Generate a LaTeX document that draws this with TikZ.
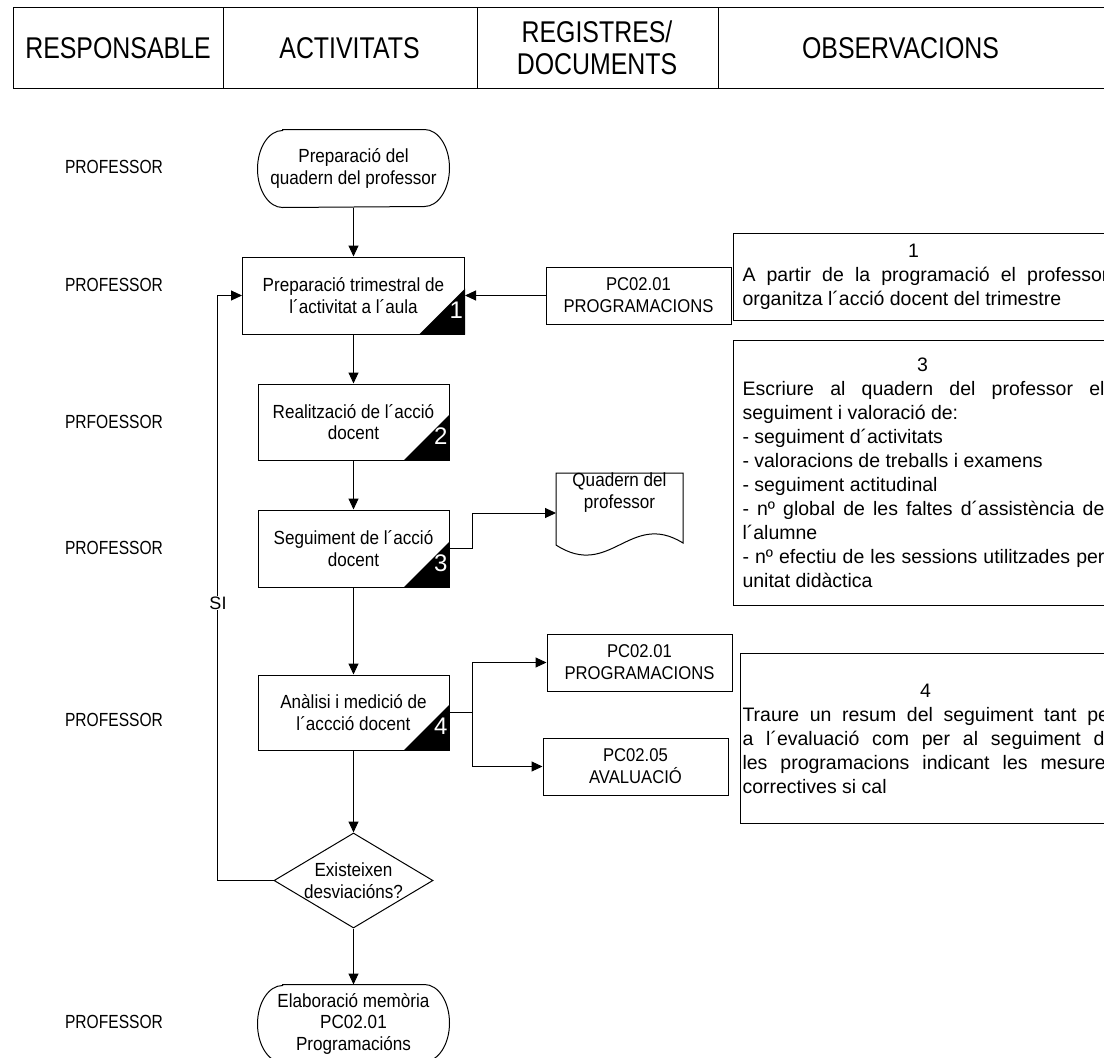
\documentclass[tikz,border=0pt]{standalone}
\usepackage{fontspec}
\setmainfont{Liberation Sans}
\newfontfamily\hdrfont[FakeStretch=0.83]{Liberation Sans}
\newfontfamily\lblfont[FakeStretch=0.82]{Liberation Sans}
\newfontfamily\cfont[FakeStretch=0.9]{Liberation Sans}
\usetikzlibrary{arrows.meta,shapes.geometric}
\begin{document}
\begin{tikzpicture}[x=1pt,y=-1pt,line width=1pt,
  arr/.style={-{Triangle[length=11pt,width=10pt]}},
  flowfont/.style={font=\cfont\fontsize{19pt}{21.5pt}\selectfont},
  flowbox/.style={draw,rectangle,minimum width=191pt,minimum height=76pt,align=center,inner sep=0pt,flowfont},
  termtext/.style={minimum width=191pt,minimum height=77pt,align=center,inner sep=0pt,flowfont},
  docbox/.style={draw,rectangle,minimum width=185pt,minimum height=57pt,align=center,inner sep=0pt,
    font=\cfont\fontsize{18.5pt}{22pt}\selectfont},
  obsbox/.style={draw,rectangle,anchor=north west,align=left,inner ysep=0pt,
    font=\fontsize{19.5pt}{24pt}\selectfont},
  hdr/.style={anchor=north west,minimum height=81pt,align=center,inner sep=0pt,
    font=\hdrfont\fontsize{30pt}{32pt}\selectfont},
  who/.style={font=\lblfont\fontsize{19pt}{20pt}\selectfont,inner sep=0pt},
  num/.style={text=white,font=\fontsize{24pt}{26pt}\selectfont,inner sep=0pt,anchor=base east}]
\useasboundingbox (0,0) rectangle (1104,1058);
\clip (0,0) rectangle (1104,1058);

% header
\draw (13,7) rectangle (1130,88);
\node[hdr,minimum width=209pt] (h1) at (13,7) {RESPONSABLE};
\node[hdr,minimum width=254pt] (h2) at (222,7) {ACTIVITATS};
\node[hdr,minimum width=241pt] (h3) at (476,7) {REGISTRES/\\DOCUMENTS};
\node[hdr,minimum width=366pt] (h4) at (717,7) {OBSERVACIONS};
\draw (h1.north east) -- (h1.south east);
\draw (h2.north east) -- (h2.south east);
\draw (h3.north east) -- (h3.south east);

% responsible labels
\node[who] (w1) at (114,167) {PROFESSOR};
\node[who] (w2) at (114,285) {PROFESSOR};
\node[who] (w3) at (114,422) {PRFOESSOR};
\node[who] (w4) at (114,548) {PROFESSOR};
\node[who] (w5) at (114,720) {PROFESSOR};
\node[who] (w6) at (114,1022) {PROFESSOR};

% flow
\node[termtext] (s) at (353.5,168.5) {Preparació del\\quadern del professor};
\draw ([xshift=25pt]s.north west) -- ([xshift=-25pt]s.north east)
  arc[start angle=90,end angle=-90,x radius=25pt,y radius=38.5pt]
  -- ([xshift=25pt]s.south west)
  arc[start angle=270,end angle=90,x radius=25pt,y radius=38.5pt] -- cycle;

\node[flowbox,minimum width=222pt,minimum height=77pt] (b1) at (353.5,295.5) {Preparació trimestral de\\l´activitat a l´aula};
\node[flowbox] (b2) at (353.5,422) {Realització de l´acció\\docent};
\node[flowbox,minimum height=77pt] (b3) at (353.5,548.5) {Seguiment de l´acció\\docent};
\node[flowbox,minimum height=75pt] (b4) at (353.5,712.5) {Anàlisi i medició de\\l´accció docent};

\foreach \n/\k in {b1/1,b2/2,b3/3,b4/4}{
  \fill (\n.south east) -- ++(-46pt,0pt) -- ++(46pt,46pt) -- cycle;
  \node[num] (n\k) at ([yshift=16pt,xshift=-1.5pt]\n.south east) {\k};
}

\node[draw,shape=diamond,minimum width=159pt,minimum height=95pt,inner sep=0pt,
  label={[flowfont,align=center]center:Existeixen\\desviacións?}] (d) at (353.5,880.5) {};

\node[termtext] (e) at (353.5,1023.5) {Elaboració memòria\\PC02.01\\Programacións};
\draw ([xshift=25pt]e.north west) -- ([xshift=-25pt]e.north east)
  arc[start angle=90,end angle=-90,x radius=25pt,y radius=38.5pt]
  -- ([xshift=25pt]e.south west)
  arc[start angle=270,end angle=90,x radius=25pt,y radius=38.5pt] -- cycle;

\draw[arr] (s.south) -- (b1.north);
\draw[arr] (b1.south) -- (b2.north);
\draw[arr] (b2.south) -- (b3.north);
\draw[arr] (b3.south) -- (b4.north);
\draw[arr] (b4.south) -- (d.north);
\draw[arr] (d.south) -- (e.north);

% loop back
\draw[arr] (d.west) -| ([xshift=-25pt]b1.west) -- (b1.west);
\node[fill=white,inner sep=1pt,font=\fontsize{18pt}{19pt}\selectfont] (si) at (218,603) {SI};

% documents
\node[docbox] (pc1) at (638.5,295.5) {PC02.01\\PROGRAMACIONS};
\draw[arr] (pc1.west) -- (b1.east);

\node[align=center,inner sep=0pt,flowfont] (q) at (619.5,492.5) {Quadern del\\professor};
\draw (556,473) -- (683,473) -- (683,543) .. controls (630,510) and (610,580) .. (556,545) -- cycle;
\coordinate (qin) at (556,513);
\draw[arr] (b3.east) -- ++(23pt,0pt) |- (qin);

\node[docbox] (pc2) at (639.5,662.5) {PC02.01\\PROGRAMACIONS};
\node[docbox] (pc3) at (635.5,766.5) {PC02.05\\AVALUACIÓ};
\draw (b4.east) -- ++(23pt,0pt) coordinate (j4);
\draw[arr] (j4) |- (pc2.west);
\draw[arr] (j4) |- (pc3.west);

% observations
\node[obsbox,inner xsep=9pt,minimum height=87pt] (o1) at (733,233) {%
\makebox[342pt]{1}\\
\makebox[366pt][s]{A partir de la programació el professor}\\
organitza l´acció docent del trimestre};

\node[obsbox,inner xsep=9pt,minimum height=265pt] (o3) at (733,340) {%
\makebox[360pt]{3}\\
\makebox[362pt][s]{Escriure al quadern del professor el}\\
seguiment i valoració de:\\
- seguiment d´activitats\\
- valoracions de treballs i examens\\
- seguiment actitudinal\\
\makebox[362pt][s]{- nº global de les faltes d´assistència de}\\
l´alumne\\
\makebox[362pt][s]{- nº efectiu de les sessions utilitzades per}\\
unitat didàctica};

\node[obsbox,inner xsep=2pt,minimum height=170pt] (o4) at (740,653) {%
\makebox[366pt]{4}\\
\makebox[373pt][s]{Traure un resum del seguiment tant per}\\
\makebox[373pt][s]{a l´evaluació com per al seguiment de}\\
\makebox[373pt][s]{les programacions indicant les mesures}\\
correctives si cal};
\end{tikzpicture}
\end{document}
